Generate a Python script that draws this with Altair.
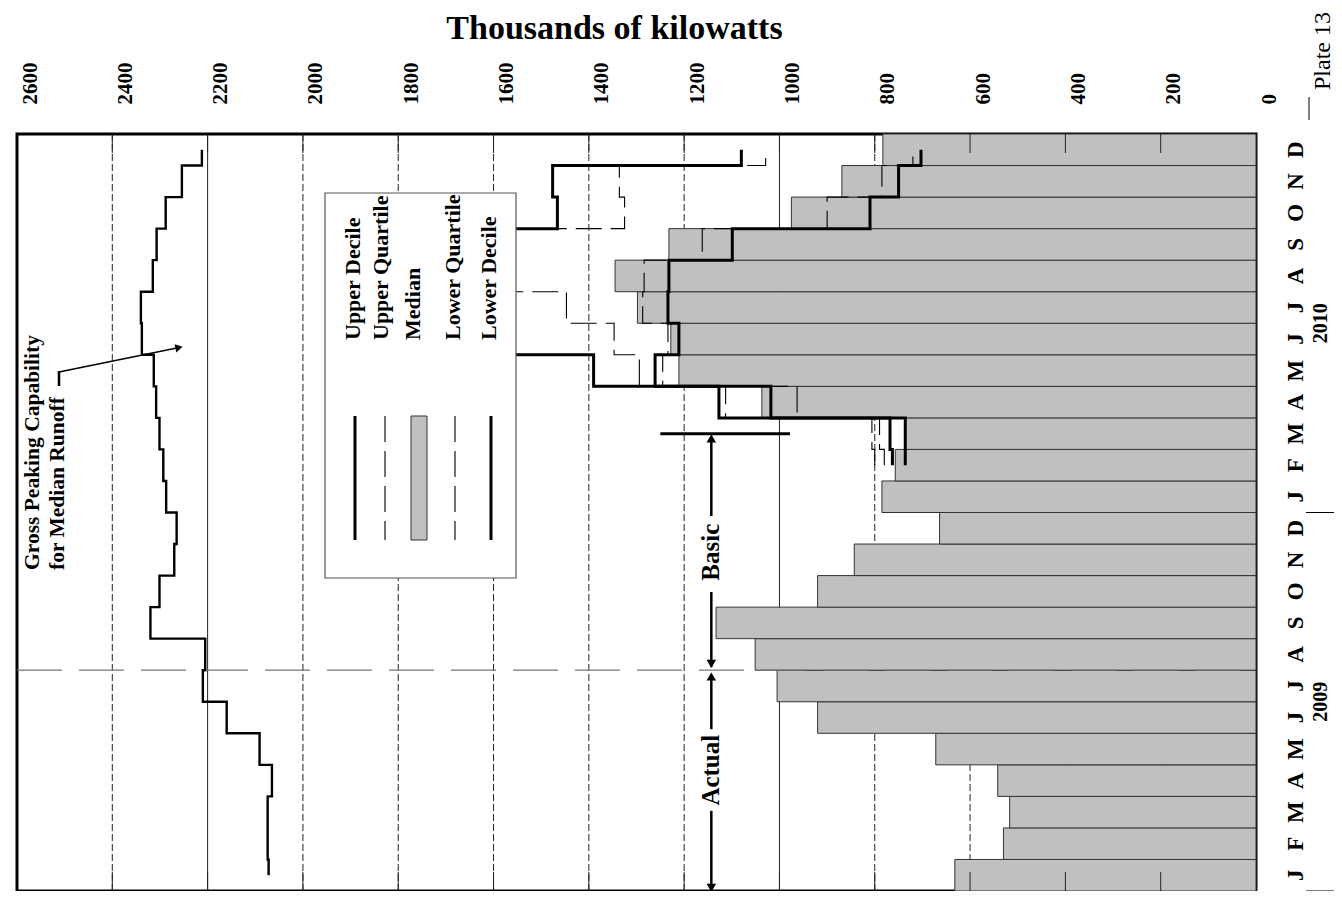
import altair as alt
import pandas as pd

W, H = 1239, 757
FONT = "Liberation Serif"

# ---------------- data ----------------
month_letters = ["J", "F", "M", "A", "M", "J", "J", "A", "S", "O", "N", "D"]
years = ["2009", "2010"]
kw_ticks = [0, 200, 400, 600, 800, 1000, 1200, 1400, 1600, 1800, 2000, 2200, 2400, 2600]
solid_grid = [2200, 1000]
dashed_grid = [200, 400, 600, 800, 1200, 1400, 1600, 1800, 2000, 2400]

# median (gray bars), Jan 2009 .. Dec 2010
median_kw = [632, 530, 517, 542, 672, 920, 1005, 1051, 1133, 920, 843, 664,
             785, 757, 736, 1037, 1211, 1228, 1298, 1345, 1232, 975, 869, 783]
# gross peaking capability for median runoff, Jan 2009 .. Dec 2010
capability_kw = [2072, 2074, 2074, 2065, 2091, 2160, 2210, 2205, 2320, 2301, 2270, 2265,
                 2287, 2293, 2301, 2308, 2313, 2338, 2340, 2315, 2307, 2288, 2254, 2212]
# forecast months Feb .. Dec 2010
upper_decile = [763, 768, 1127, 1390, 1650, 1750, 1720, 1650, 1466, 1476, 1080]
upper_quartile = [800, 806, 1113, 1294, 1347, 1447, 1600, 1580, 1325, 1336, 1029]
lower_quartile = [780, 790, 963, 1245, 1234, 1287, 1284, 1162, 900, 785, 720]
lower_decile = [736, 736, 1018, 1261, 1211, 1234, 1232, 1099, 810, 750, 703]

legend_labels = ["Upper Decile", "Upper Quartile", "Median", "Lower Quartile", "Lower Decile"]

# ---------------- helpers ----------------
xs = alt.Scale(domain=[0, 2600], reverse=True, nice=False, zero=False)
ys = alt.Scale(domain=[0, 24], nice=False, zero=False)

axis_top = alt.Axis(
    orient="top", values=kw_ticks, format="d", grid=False, ticks=False, domain=False,
    labelAngle=270, labelAlign="left", labelBaseline="middle",
    labelFont=FONT, labelFontWeight="bold", labelFontSize=21, labelColor="black",
    labelPadding=30, labelOffset=13, labelFlush=False, labelOverlap=False,
    title="Thousands of kilowatts", titleFont=FONT, titleFontWeight="bold",
    titleFontSize=34, titleColor="black", titleX=597, titleY=-96,
    titleAlign="center", titleBaseline="alphabetic", titleAngle=0,
)


def X(f="kw"):
    return alt.X(f"{f}:Q", scale=xs, axis=axis_top)


def Y(f="m"):
    return alt.Y(f"{f}:Q", scale=ys, axis=None)


def steps(values, first, start, end, name):
    rows = []
    for i, v in enumerate(values):
        m = first + i
        rows.append(dict(series=name, kw=v, m=max(m, start), o=2 * i))
        rows.append(dict(series=name, kw=v, m=min(m + 1, end), o=2 * i + 1))
    return pd.DataFrame(rows)


ONE = pd.DataFrame({"a": [0]})


def px_text(text, x, y, angle=270, align="left", size=22, weight="bold", color="black"):
    return alt.Chart(pd.DataFrame({"t": [text]})).mark_text(
        angle=angle, align=align, baseline="middle", font=FONT, fontWeight=weight,
        fontSize=size, color=color
    ).encode(x=alt.value(x), y=alt.value(y), text="t:N")


# gridlines
grid_dashed = alt.Chart(pd.DataFrame({"kw": dashed_grid})).mark_rule(
    color="#222", strokeWidth=1, strokeDash=[7, 3]
).encode(x=X(), y=alt.value(0), y2=alt.value(H))
grid_solid = alt.Chart(pd.DataFrame({"kw": solid_grid})).mark_rule(
    color="#222", strokeWidth=1
).encode(x=X(), y=alt.value(0), y2=alt.value(H))

# median bars
bars_df = pd.DataFrame({"kw": median_kw, "m0": range(24)})
bars_df["m1"] = bars_df["m0"] + 1
bars_df["base"] = 0
bars = alt.Chart(bars_df).mark_rect(fill="#c0c0c0", stroke="#333", strokeWidth=1).encode(
    x=X(), x2="base:Q", y=Y("m0"), y2="m1:Q"
)

# actual / basic divider (end of Jul 2009)
divider = alt.Chart(pd.DataFrame({"m": [7]})).mark_rule(
    color="#777", strokeWidth=1.3, strokeDash=[45, 17]
).encode(y=Y(), x=alt.value(0), x2=alt.value(W))

# inward ticks
tick_df = pd.DataFrame({"kw": kw_ticks[1:-1]})
ticks_top = alt.Chart(tick_df).mark_rule(color="#222", strokeWidth=1).encode(
    x=X(), y=alt.value(0), y2=alt.value(19))
ticks_bot = alt.Chart(tick_df).mark_rule(color="#222", strokeWidth=1).encode(
    x=X(), y=alt.value(H - 19), y2=alt.value(H))

# step lines
cap = alt.Chart(steps(capability_kw, 0, 0.5, 23.5, "cap")).mark_line(
    color="black", strokeWidth=2.4, strokeJoin="miter"
).encode(x=X(), y=Y(), order="o:Q")

dec_df = pd.concat([steps(upper_decile, 13, 13.5, 23.5, "ud"),
                    steps(lower_decile, 13, 13.5, 23.5, "ld")])
qua_df = pd.concat([steps(upper_quartile, 13, 13.5, 23.5, "uq"),
                    steps(lower_quartile, 13, 13.5, 23.5, "lq")])
deciles = alt.Chart(dec_df).mark_line(color="black", strokeWidth=3, strokeJoin="miter").encode(
    x=X(), y=Y(), order="o:Q", detail="series:N")
quartiles = alt.Chart(qua_df).mark_line(color="black", strokeWidth=1.1, strokeDash=[26, 9]).encode(
    x=X(), y=Y(), order="o:Q", detail="series:N")

# legend box (pixel positions inside the plot)
LX0, LX1, LY0, LY1 = 308, 499, 59, 444
leg_box = alt.Chart(ONE).mark_rect(fill="white", stroke="#555", strokeWidth=1.2).encode(
    x=alt.value(LX0), x2=alt.value(LX1), y=alt.value(LY0), y2=alt.value(LY1))

leg_x = [336, 364, 396, 436, 472]
leg_layers = [px_text(t, x, 206) for t, x in zip(legend_labels, leg_x)]
sym_y0, sym_y1 = 282, 406
sym_x = [338, 368, 402, 438, 474]
for i in (0, 4):
    leg_layers.append(alt.Chart(ONE).mark_rule(color="black", strokeWidth=3).encode(
        x=alt.value(sym_x[i]), y=alt.value(sym_y0), y2=alt.value(sym_y1)))
for i in (1, 3):
    leg_layers.append(alt.Chart(ONE).mark_rule(color="black", strokeWidth=1.1, strokeDash=[26, 9]).encode(
        x=alt.value(sym_x[i]), y=alt.value(sym_y0), y2=alt.value(sym_y1)))
leg_layers.append(alt.Chart(ONE).mark_rect(fill="#c0c0c0", stroke="#333", strokeWidth=1).encode(
    x=alt.value(sym_x[2] - 8), x2=alt.value(sym_x[2] + 8), y=alt.value(sym_y0), y2=alt.value(sym_y1)))

# capability annotation
cap_layers = [
    px_text("Gross Peaking Capability", 16, 436, size=21.5),
    px_text("for Median Runoff", 41, 436, size=21.5),
    alt.Chart(ONE).mark_rule(color="black", strokeWidth=2.5).encode(
        x=alt.value(42), y=alt.value(237), y2=alt.value(252)),
    alt.Chart(ONE).mark_rule(color="black", strokeWidth=1.5).encode(
        x=alt.value(42), y=alt.value(238), x2=alt.value(161), y2=alt.value(213.8)),
    alt.Chart(ONE).mark_point(shape="triangle-right", filled=True, color="black", size=70,
                              angle=348, opacity=1).encode(x=alt.value(162), y=alt.value(213.6)),
]

# actual / basic arrows (month coordinates)
ARW = 1143
arrow_segs = pd.DataFrame({"kw": [ARW] * 4, "m": [14.4, 9.48, 6.85, 2.54],
                           "m2": [11.89, 7.1, 5.13, 0.05]})
arrow_lines = alt.Chart(arrow_segs).mark_rule(color="black", strokeWidth=2.5).encode(
    x=X(), y=Y(), y2="m2:Q")
heads_up = alt.Chart(pd.DataFrame({"kw": [ARW, ARW], "m": [14.35, 6.8]})).mark_point(
    shape="triangle-up", filled=True, color="black", size=90, opacity=1).encode(x=X(), y=Y())
heads_dn = alt.Chart(pd.DataFrame({"kw": [ARW, ARW], "m": [7.2, 0.1]})).mark_point(
    shape="triangle-down", filled=True, color="black", size=90, opacity=1).encode(x=X(), y=Y())
arrow_text = alt.Chart(pd.DataFrame({"kw": [ARW, ARW], "m": [10.74, 3.83],
                                     "t": ["Basic", "Actual"]})).mark_text(
    angle=270, align="center", baseline="middle", font=FONT, fontWeight="bold", fontSize=25, color="black"
).encode(x=X(), y=Y(), text="t:N")
marker = alt.Chart(pd.DataFrame({"kw": [1250], "kw2": [978], "m": [14.5]})).mark_rule(
    color="black", strokeWidth=3).encode(x=X(), x2="kw2:Q", y=Y())

# month & year labels
mdf = pd.DataFrame({"t": month_letters * 2, "m": [i + 0.5 for i in range(24)]})
month_text = alt.Chart(mdf).mark_text(
    angle=270, align="center", baseline="middle", font=FONT, fontWeight="bold", fontSize=23, color="black"
).encode(y=Y(), x=alt.value(1279), text="t:N")
ydf = pd.DataFrame({"t": years, "m": [6, 18]})
year_text = alt.Chart(ydf).mark_text(
    angle=270, align="center", baseline="middle", font=FONT, fontWeight="bold", fontSize=20, color="black"
).encode(y=Y(), x=alt.value(1304), text="t:N")
ysep = alt.Chart(pd.DataFrame({"m": [0, 12]})).mark_rule(color="black", strokeWidth=1).encode(
    y=Y(), x=alt.value(1289), x2=alt.value(1318))
plate_sep = alt.Chart(ONE).mark_rule(color="black", strokeWidth=1).encode(
    x=alt.value(1292), y=alt.value(-37), y2=alt.value(-14))
plate = px_text("Plate 13", 1306, -44, size=24, weight="normal")

chart = alt.layer(
    grid_dashed, grid_solid, bars, divider, ticks_top, ticks_bot, cap, quartiles, deciles,
    leg_box, *leg_layers, *cap_layers,
    arrow_lines, heads_up, heads_dn, arrow_text, marker,
    month_text, year_text, ysep, plate_sep, plate,
).properties(
    width=W, height=H,
    autosize=alt.AutoSizeParams(type="none"),
    padding={"left": 9, "top": 126, "right": 78, "bottom": 0},
    background="white",
).configure_view(stroke="black", strokeWidth=3)

chart.save("out.html", embed_options={"renderer": "svg", "actions": False})
